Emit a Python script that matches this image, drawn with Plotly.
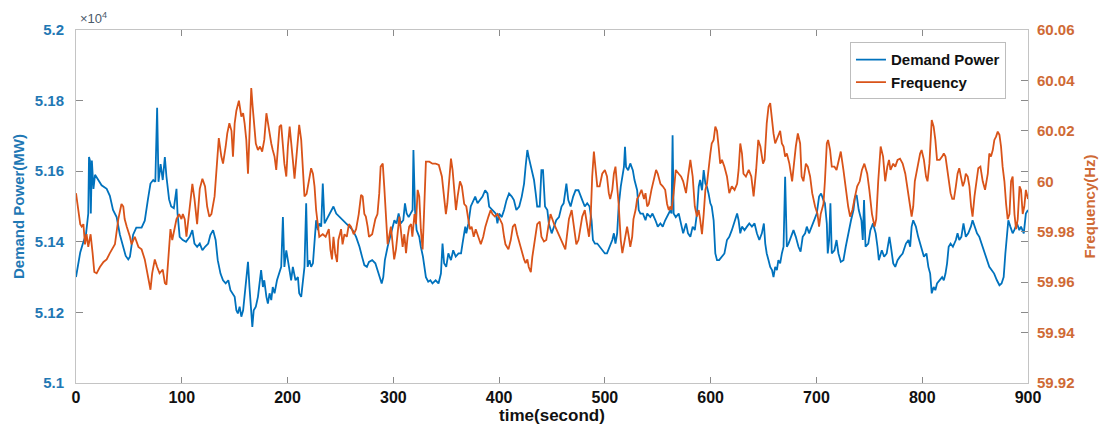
import plotly.graph_objects as go

# ---- Demand power (units of 10^4 MW) ----
t_demand = [0, 1, 4, 7, 9.4, 11.6, 12.3, 13.2, 14, 15, 16.5, 18, 21, 24.2, 29, 32, 35, 38.4, 41.5, 44.7,
            47, 49.4, 51, 54, 57, 62, 65, 68, 70.4, 73, 75, 76.7, 78, 80, 82, 84, 85.5, 88, 90, 92.5,
            95, 96, 98, 101, 104, 107.5, 110, 112, 114.5, 117, 119.5, 122, 125, 127, 129.6, 132, 134, 136.6, 139, 141.5,
            144, 146, 148, 150, 151.6, 153, 154.7, 156.3, 158, 159.4, 161, 162.6, 164, 165.7, 166.7, 168, 170, 172, 173.6, 175,
            176.7, 178, 180, 181.4, 183, 184.6, 186, 187.7, 190, 191.8, 194, 195.6, 197, 198.8, 200.3, 202, 203.4, 205, 207.5, 209.8,
            211, 212.9, 214.5, 216, 217.6, 219, 220.8, 222.3, 224, 225.5, 227, 228.6, 230, 231.8, 233.3, 235, 238, 241, 243.4, 246,
            249, 252, 255.3, 258.5, 261.6, 264.8, 268, 270.4, 272.6, 275, 277, 280, 283, 285, 287.4, 289, 290.5, 292, 294.6, 296.8,
            299, 301, 303, 305, 307, 309.4, 311, 312.6, 314.5, 316.7, 318.2, 319, 320.5, 322, 324.5, 326, 328, 330.8, 333, 335,
            337, 340, 342.7, 345, 346.5, 348, 350, 352, 354.5, 356.6, 359, 361.6, 364, 365.4, 368, 369, 371, 373.2, 375.5, 377.4,
            379.6, 382, 384.3, 386.8, 389, 390.6, 393.7, 396.9, 398.4, 400, 402.5, 404.7, 407, 409.4, 412, 414, 416.3, 419, 421.4, 423.6,
            425, 426.7, 428, 430, 431.4, 433, 434.6, 436, 438.4, 440, 441.5, 443.4, 445.6, 447, 449.7, 452, 454, 456.6, 459, 461,
            463.6, 465.4, 467.6, 470, 472.3, 475, 477, 478.6, 481, 483.3, 485.5, 487.4, 488.7, 490.6, 492.8, 495, 497.5, 500, 502, 504.4,
            507, 508.5, 510, 511.6, 513, 515, 516.5, 518, 519, 520, 522, 524, 526.4, 528, 530.5, 532, 533.6, 536, 538.4, 540,
            543, 545, 547.8, 550, 552.5, 554.7, 557, 559.8, 562, 563, 564, 565, 567, 569.8, 572, 574, 576.7, 578.6, 580.8, 583,
            585, 587, 588.7, 590, 591.8, 593.4, 595, 596.5, 598, 599.7, 601, 602.8, 604.4, 606, 608, 610.7, 613, 615.4, 617.6, 620,
            622.6, 625, 626.4, 628, 629.6, 632, 634.3, 636.5, 639, 641.5, 643.7, 646, 648.4, 650.3, 651.6, 653, 654.7, 656.3, 658, 659.4,
            661, 662.6, 664, 665.7, 667.3, 668.9, 670.4, 672, 673.6, 676, 678.3, 680.5, 683, 685, 687, 689.3, 690.9, 693, 695.6, 698,
            700.3, 702.5, 704.4, 706.6, 708, 709.8, 710.7, 712, 713.2, 714.5, 717, 719, 720.8, 723, 725.5, 727.7, 730, 732.7, 735, 736.5,
            738, 740, 742.5, 743.8, 745, 746.4, 749, 751, 753.5, 756, 757.7, 759, 761.8, 764, 766.4, 769, 770.4, 772.6, 774.5, 776.7,
            779, 781.5, 784.6, 787, 788.6, 790, 791.5, 794, 796.2, 799.4, 801.6, 804, 805.8, 807.5, 809, 810.8, 812.4, 814, 816.5, 818.8,
            820.4, 822, 823.5, 825, 826.8, 829, 831.8, 833.4, 835, 837, 839, 841.2, 843.5, 846, 847.6, 850, 851.8, 854, 856.2, 858.7,
            861.2, 863.4, 865.6, 868, 870.6, 873, 875, 877, 878.6, 880, 881.4, 883.3, 885.5, 887, 889.6, 891.8, 893.4, 896, 898, 900]
demand = [5.130, 5.1315, 5.137, 5.140, 5.142, 5.148, 5.164, 5.163, 5.148, 5.163, 5.155, 5.159, 5.1575, 5.156, 5.155, 5.153, 5.149, 5.147, 5.142, 5.1386,
          5.136, 5.135, 5.1358, 5.142, 5.144, 5.144, 5.146, 5.152, 5.1565, 5.1575, 5.157, 5.178, 5.157, 5.162, 5.1575, 5.164, 5.1585, 5.152, 5.150, 5.1495,
          5.155, 5.148, 5.1414, 5.1405, 5.140, 5.1414, 5.1433, 5.1395, 5.1386, 5.1395, 5.1376, 5.1386, 5.1395, 5.1419, 5.1433, 5.1405, 5.1348, 5.131, 5.1291, 5.1282,
          5.1291, 5.1263, 5.1254, 5.1244, 5.1206, 5.1197, 5.1216, 5.1188, 5.1206, 5.1244, 5.1291, 5.1343, 5.1272, 5.1206, 5.1159, 5.1206, 5.1216, 5.1244, 5.1291, 5.132,
          5.1272, 5.1291, 5.1244, 5.1225, 5.1254, 5.1235, 5.1272, 5.1254, 5.1291, 5.131, 5.1329, 5.147, 5.1329, 5.1376, 5.1348, 5.131, 5.1291, 5.1329, 5.1291, 5.130,
          5.1254, 5.1244, 5.1291, 5.1329, 5.1509, 5.1329, 5.1348, 5.1329, 5.1339, 5.1405, 5.1461, 5.1433, 5.1452, 5.1443, 5.1565, 5.1452, 5.147, 5.149, 5.150, 5.148,
          5.147, 5.1461, 5.1452, 5.1443, 5.1433, 5.1414, 5.1386, 5.1358, 5.1334, 5.1329, 5.1343, 5.1348, 5.1339, 5.132, 5.130, 5.1282, 5.130, 5.1348, 5.1386, 5.1414,
          5.1443, 5.1461, 5.1452, 5.148, 5.1452, 5.1461, 5.1509, 5.148, 5.147, 5.148, 5.149, 5.166, 5.149, 5.1433, 5.1414, 5.1386, 5.1358, 5.130, 5.1287, 5.1291,
          5.1282, 5.1291, 5.1282, 5.131, 5.1395, 5.1339, 5.1329, 5.1367, 5.1348, 5.1376, 5.1358, 5.1367, 5.1367, 5.1395, 5.1443, 5.1424, 5.1452, 5.150, 5.1518, 5.1528,
          5.1509, 5.1518, 5.1528, 5.1546, 5.1537, 5.150, 5.149, 5.148, 5.1452, 5.148, 5.147, 5.149, 5.1518, 5.1537, 5.1528, 5.1518, 5.149, 5.150, 5.1528, 5.1565,
          5.1612, 5.166, 5.164, 5.1612, 5.1594, 5.1575, 5.1537, 5.150, 5.150, 5.1603, 5.1603, 5.150, 5.149, 5.1452, 5.1424, 5.1443, 5.1461, 5.147, 5.150, 5.1509,
          5.1565, 5.1518, 5.150, 5.1528, 5.1546, 5.1546, 5.1528, 5.1518, 5.150, 5.1509, 5.150, 5.1461, 5.1405, 5.1395, 5.1395, 5.1386, 5.1376, 5.1367, 5.1367, 5.1386,
          5.1405, 5.1424, 5.1395, 5.1424, 5.150, 5.1556, 5.1584, 5.1612, 5.1669, 5.1612, 5.1603, 5.1622, 5.1603, 5.1575, 5.1546, 5.149, 5.148, 5.148, 5.1461, 5.148,
          5.147, 5.148, 5.1461, 5.1443, 5.1452, 5.1443, 5.1461, 5.148, 5.149, 5.148, 5.1702, 5.148, 5.147, 5.148, 5.1452, 5.1424, 5.1452, 5.1424, 5.1414, 5.1443,
          5.1433, 5.148, 5.1556, 5.1575, 5.1546, 5.1603, 5.1565, 5.1556, 5.1537, 5.1509, 5.150, 5.1461, 5.1367, 5.1348, 5.1348, 5.1358, 5.1367, 5.1405, 5.1414, 5.1433,
          5.1461, 5.148, 5.1461, 5.1424, 5.1443, 5.1433, 5.1443, 5.1452, 5.1443, 5.1452, 5.1424, 5.1405, 5.1424, 5.1452, 5.1395, 5.1367, 5.1348, 5.1329, 5.132, 5.130,
          5.1329, 5.132, 5.1348, 5.1339, 5.1367, 5.1386, 5.1584, 5.1386, 5.1395, 5.1414, 5.1433, 5.1414, 5.1386, 5.1372, 5.1414, 5.1424, 5.1443, 5.1424, 5.1443, 5.1461,
          5.148, 5.1528, 5.1537, 5.1518, 5.1509, 5.1452, 5.1367, 5.1405, 5.1509, 5.1367, 5.1376, 5.1405, 5.1367, 5.1343, 5.1348, 5.1386, 5.1424, 5.1461, 5.149, 5.1528,
          5.1532, 5.149, 5.1461, 5.1405, 5.1518, 5.1386, 5.1395, 5.1433, 5.1452, 5.1424, 5.1386, 5.1348, 5.1376, 5.1358, 5.1367, 5.1414, 5.1386, 5.1339, 5.1329, 5.1348,
          5.1358, 5.1367, 5.1395, 5.1405, 5.1386, 5.1443, 5.1461, 5.1443, 5.1414, 5.1376, 5.1358, 5.1367, 5.1329, 5.131, 5.1254, 5.1272, 5.1263, 5.1282, 5.1291, 5.130,
          5.1291, 5.131, 5.1339, 5.1386, 5.1395, 5.1386, 5.1405, 5.1424, 5.1405, 5.1414, 5.1452, 5.1414, 5.1424, 5.1443, 5.1461, 5.1443, 5.1424, 5.1414, 5.1395, 5.1376,
          5.1348, 5.1329, 5.132, 5.131, 5.1291, 5.1277, 5.1282, 5.130, 5.1367, 5.1414, 5.1461, 5.1443, 5.1424, 5.1433, 5.1452, 5.1433, 5.1443, 5.1424, 5.148, 5.149]

# ---- Frequency (Hz) ----
t_freq = [0, 1.3, 4, 5.4, 7, 8.5, 10, 11.6, 13.8, 15.7, 17.3, 19.5, 22.6, 26, 29, 32, 35, 36.8, 40, 41.5,
          43, 44.7, 46, 48, 51, 52.5, 55.6, 59, 62, 65, 66.7, 68, 70.4, 72, 74.5, 76.7, 79, 82, 84, 85.5,
          87.4, 89.3, 91, 93.4, 95, 97.5, 99.7, 101, 102.8, 104.4, 107.5, 110, 112, 114.5, 117, 119.5, 122, 124, 126, 128,
          131, 133.3, 135, 137.4, 139, 141.5, 143, 145, 147, 148.4, 150, 151.6, 154, 156.3, 158, 159.4, 161, 162.6, 164, 165.7,
          167, 168.8, 170, 172, 174, 176, 178, 180, 181.4, 183, 184.6, 186, 187.7, 189.3, 191, 192.4, 194, 195.6, 197, 198.8,
          200.3, 202, 203.4, 205, 206.6, 208, 209.8, 211, 212.9, 214.5, 216, 218, 220.8, 222.3, 224, 225.5, 227, 228.6, 230, 233.3,
          236, 239, 240.5, 242, 243.4, 245, 246.8, 248, 250.6, 252, 253.8, 256, 258, 260, 262.5, 264.8, 267.3, 269.5, 271, 272.6,
          274, 275.7, 277, 280, 281.8, 283, 285, 286.7, 288, 290, 291.4, 293, 294.6, 296, 297.7, 299, 300.8, 302.5, 304, 305.7,
          307, 308.8, 310.4, 312, 313.5, 315, 316.8, 318, 320, 321.4, 323, 324.5, 326, 327.7, 329, 330.8, 334, 337, 340, 343,
          345.9, 348, 349.7, 351, 352.8, 354.5, 356, 357.5, 359.2, 360.8, 363, 364.8, 367, 369, 371, 372.3, 374, 376, 377.9, 380,
          382.7, 385, 387, 389.9, 392, 393.7, 396, 398.4, 400.6, 403, 404.7, 406, 408.8, 411, 413, 415, 417, 419.5, 421.4, 423.6,
          425, 426.7, 428, 430, 431.4, 434, 436, 438.4, 440, 442.4, 444.6, 446.5, 448.6, 452, 454, 456.6, 459, 461, 462.6, 464,
          466, 468.6, 471, 473, 475, 477, 478.6, 481, 483.3, 485, 486.5, 488, 489.6, 491, 492.8, 495, 497.5, 500, 502, 503.7,
          505, 507, 508.5, 510, 511.6, 513, 515, 516.5, 518, 519.5, 521, 522.6, 524, 525.8, 527, 529, 530.5, 532, 534.6, 537,
          538.4, 540, 541.5, 544, 546, 548.4, 550, 552.5, 554.7, 557, 558.8, 560.4, 562, 563, 565, 567, 569.8, 572, 574, 576.7,
          578.6, 580.8, 583, 585, 587, 588.7, 590, 591.8, 593.4, 595, 596.5, 598, 599.7, 601, 602.8, 604.4, 606, 607.5, 609, 610.7,
          613, 615.4, 617.6, 620, 622.6, 625, 626.4, 628, 629.6, 631, 633.3, 636, 638.4, 640.6, 643, 645, 647, 649.5, 651, 653,
          654.7, 656.3, 658, 659.4, 661, 663.6, 665.7, 667.3, 668.9, 670.4, 672, 674.4, 677, 680.5, 682.4, 684.6, 686, 687.7, 690, 691.8,
          694, 696, 698.7, 701, 702.5, 704, 706.6, 708, 709.8, 711, 712.9, 714.5, 717, 719, 720.8, 723, 725.5, 727.7, 730, 731.8,
          734, 736, 738.5, 740.9, 743, 745.3, 748, 750, 752.5, 755, 756.5, 758.4, 760.7, 763, 765, 767, 768.6, 770, 772.6, 774.5,
          776.7, 779, 781.5, 784, 786, 788.6, 790, 791.5, 793, 795.3, 798, 799.4, 801.6, 803.6, 805, 806.8, 809, 810.8, 812.4, 814,
          816.5, 818.8, 820.4, 822, 823.5, 825, 826.8, 828.4, 830, 831.8, 833.4, 835, 836.7, 838.4, 840, 841.2, 843, 844.6, 846.2, 847.6,
          849.4, 851, 853, 855, 857.2, 859.4, 862, 863.4, 865, 866.7, 868.2, 869.8, 871.4, 873, 874.5, 876, 877.7, 879.3, 880.8, 882.5,
          884, 885.5, 887.2, 888.7, 890.3, 892, 893.4, 895, 896.5, 898, 900]
freq = [59.9953, 59.991, 59.983, 59.982, 59.983, 59.975, 59.979, 59.974, 59.979, 59.9715, 59.964, 59.9635, 59.966, 59.968, 59.969, 59.9715, 59.974, 59.975, 59.985, 59.988,
        59.991, 59.990, 59.985, 59.982, 59.978, 59.975, 59.978, 59.974, 59.973, 59.969, 59.965, 59.962, 59.957, 59.9635, 59.969, 59.966, 59.9635, 59.965, 59.9596, 59.959,
        59.970, 59.981, 59.9767, 59.981, 59.985, 59.987, 59.985, 59.987, 59.985, 59.978, 59.990, 59.999, 59.993, 59.983, 59.997, 60.001, 59.998, 59.990, 59.986, 59.987,
        59.994, 60.007, 60.0171, 60.0098, 60.007, 60.0138, 60.019, 60.023, 60.020, 60.0098, 60.023, 60.028, 60.032, 60.0257, 60.027, 60.023, 60.0164, 60.003, 60.020, 60.037,
        60.0296, 60.0217, 60.015, 60.0124, 60.0138, 60.0118, 60.0164, 60.027, 60.023, 60.0177, 60.015, 60.0124, 60.0098, 60.0045, 60.0138, 60.0217, 60.0224, 60.0138, 60.007, 60.0019,
        60.0138, 60.0217, 60.0164, 60.0085, 60.001, 60.007, 60.0171, 60.0224, 60.0164, 60.0045, 59.994, 59.995, 60.0019, 60.0052, 60.003, 59.998, 59.9886, 59.982, 59.978, 59.979,
        59.978, 59.981, 59.973, 59.969, 59.978, 59.9715, 59.968, 59.9767, 59.981, 59.975, 59.979, 59.978, 59.983, 59.982, 59.979, 59.981, 59.987, 59.9946, 59.994, 59.987,
        59.986, 59.982, 59.978, 59.979, 59.983, 59.985, 59.987, 59.9953, 60.0058, 60.007, 59.998, 59.987, 59.975, 59.978, 59.982, 59.9767, 59.969, 59.973, 59.978, 59.986,
        59.981, 59.974, 59.979, 59.9715, 59.978, 59.982, 59.983, 59.978, 59.987, 59.983, 59.9966, 59.994, 59.981, 59.973, 59.987, 60.0078, 60.0078, 60.007, 60.007, 60.0065,
        60.0019, 59.994, 59.987, 59.991, 60.0019, 60.009, 60.0045, 59.9966, 59.9886, 59.994, 60.000, 59.998, 59.991, 59.990, 59.985, 59.981, 59.982, 59.978, 59.981, 59.978,
        59.975, 59.978, 59.982, 59.986, 59.9886, 59.987, 59.986, 59.987, 59.985, 59.983, 59.978, 59.975, 59.973, 59.9767, 59.982, 59.983, 59.979, 59.975, 59.9715, 59.969,
        59.9675, 59.969, 59.966, 59.964, 59.970, 59.9767, 59.983, 59.984, 59.978, 59.9761, 59.9767, 59.982, 59.987, 59.983, 59.981, 59.979, 59.9767, 59.974, 59.973, 59.978,
        59.985, 59.9886, 59.982, 59.975, 59.9767, 59.982, 59.986, 59.9886, 59.982, 59.978, 59.985, 60.0019, 60.0118, 60.0045, 59.998, 59.998, 60.003, 60.0045, 60.0019, 59.9953,
        59.993, 59.9966, 60.003, 60.0058, 59.999, 59.991, 59.9767, 59.9715, 59.975, 59.979, 59.982, 59.978, 59.974, 59.978, 59.985, 59.9886, 59.993, 59.994, 59.9966, 59.993,
        59.9953, 59.990, 59.991, 59.9966, 60.000, 60.0045, 60.003, 59.999, 59.998, 59.9966, 59.991, 59.9886, 59.990, 59.9886, 59.9953, 60.0045, 60.003, 60.0019, 60.000, 59.9953,
        60.0019, 60.0085, 60.0019, 59.990, 59.986, 59.9886, 59.985, 59.979, 59.987, 59.9966, 59.999, 60.0058, 60.011, 60.015, 60.0164, 60.0217, 60.020, 60.0138, 60.007, 60.0085,
        60.0058, 60.0019, 59.9953, 59.998, 59.9966, 59.999, 60.0045, 60.015, 60.011, 60.003, 60.0019, 60.0045, 60.0019, 59.994, 60.0045, 60.0164, 60.0138, 60.007, 60.0085, 60.023,
        60.0296, 60.031, 60.023, 60.019, 60.015, 60.0177, 60.020, 60.015, 60.0138, 60.0098, 60.011, 60.007, 60.000, 60.0138, 60.019, 60.015, 60.0019, 60.000, 60.007, 60.0058,
        60.0019, 59.9953, 59.990, 59.987, 59.982, 59.987, 59.991, 60.000, 60.015, 60.0164, 60.0124, 60.0058, 60.0058, 60.0045, 60.0085, 60.0118, 60.0045, 59.9966, 59.990, 59.986,
        59.9886, 59.993, 59.998, 60.000, 60.0045, 60.007, 60.003, 59.9966, 59.987, 59.982, 59.985, 60.000, 60.0138, 60.0098, 60.000, 60.0058, 60.0085, 60.0045, 60.007, 60.0058,
        60.0085, 60.009, 60.007, 60.003, 59.998, 59.990, 59.986, 59.990, 60.000, 60.0058, 60.011, 60.0124, 60.0085, 60.0019, 60.000, 60.007, 60.0243, 60.0217, 60.0164, 60.0085,
        60.0085, 60.0098, 60.011, 60.0098, 60.0058, 60.000, 59.9953, 59.993, 59.993, 59.998, 60.003, 60.0052, 60.0019, 59.998, 60.000, 60.003, 60.0019, 59.998, 59.990, 59.986,
        59.994, 60.000, 60.0052, 60.0058, 60.000, 59.9966, 60.003, 60.011, 60.0098, 60.0124, 60.0164, 60.0177, 60.0197, 60.0184, 60.0138, 60.0058, 60.000, 59.991, 59.985, 59.987,
        60.000, 60.0019, 59.987, 59.981, 59.985, 59.998, 59.9966, 59.987, 59.990, 59.9966, 59.993]

x_ticks = [0, 100, 200, 300, 400, 500, 600, 700, 800, 900]
left_ticks = [5.1, 5.12, 5.14, 5.16, 5.18, 5.2]
right_ticks = [59.92, 59.94, 59.96, 59.98, 60.0, 60.02, 60.04, 60.06]

BLUE = "#0072BD"
ORANGE = "#D95319"
LBLUE = "#1f78b4"
LORANGE = "#cf6a35"
AXC = "#c4c4c4"
TICKC = "#8a8a8a"
FONT = "Liberation Sans, Arial, sans-serif"
NARROW = "Liberation Sans Narrow, Arial Narrow, Liberation Sans, Arial"

fig = go.Figure()
fig.add_trace(go.Scatter(x=t_demand, y=demand, mode="lines", name="Demand Power",
                         line=dict(color=BLUE, width=1.8), yaxis="y"))
fig.add_trace(go.Scatter(x=t_freq, y=freq, mode="lines", name="Frequency",
                         line=dict(color=ORANGE, width=1.8), yaxis="y2"))

fig.update_layout(
    width=1112, height=433,
    margin=dict(l=76, r=84, t=30, b=50),
    paper_bgcolor="white", plot_bgcolor="white",
    font=dict(family=FONT, size=14, color="#222"),
    showlegend=True,
    legend=dict(x=0.813, y=0.965, xanchor="left", yanchor="top",
                bgcolor="white", bordercolor="#bdbdbd", borderwidth=1,
                font=dict(family=FONT, size=15, color="#111", weight="bold"),
                tracegroupgap=0, itemwidth=30),
    xaxis=dict(range=[0, 900], tickvals=x_ticks, ticks="inside", ticklen=6,
               tickcolor=TICKC, showline=True, linecolor=AXC, linewidth=1, mirror="ticks",
               showgrid=False, zeroline=False,
               tickfont=dict(family=NARROW, size=16, color="#111", weight="bold"),
               title=dict(text="time(second)", standoff=3,
                          font=dict(family=NARROW, size=17, color="#111", weight="bold"))),
    yaxis=dict(range=[5.1, 5.2], tickvals=left_ticks, ticktext=["5.1", "5.12", "5.14", "5.16", "5.18", "5.2"],
               ticks="inside", ticklen=7, tickcolor=TICKC, ticklabelstandoff=8,
               showline=True, linecolor=AXC, linewidth=1, mirror="ticks",
               showgrid=False, zeroline=False,
               tickfont=dict(family=FONT, size=15, color=LBLUE, weight="bold"),
               title=dict(text="Demand Power(MW)", standoff=6,
                          font=dict(family=FONT, size=15, color=LBLUE, weight="bold"))),
    yaxis2=dict(range=[59.92, 60.06], tickvals=right_ticks,
                ticktext=["59.92", "59.94", "59.96", "59.98", "60", "60.02", "60.04", "60.06"],
                overlaying="y", side="right", ticks="inside", ticklen=7, tickcolor=TICKC,
                ticklabelstandoff=8,
                showline=False, showgrid=False, zeroline=False,
                tickfont=dict(family=FONT, size=15, color=LORANGE, weight="bold"),
                title=dict(text="Frequency(Hz)", standoff=10,
                           font=dict(family=FONT, size=15, color=LORANGE, weight="bold"))),
    annotations=[dict(text="×10<sup>4</sup>", x=0.0, y=1.0, xref="paper", yref="paper",
                      xanchor="left", yanchor="bottom", showarrow=False, xshift=2, yshift=2,
                      font=dict(family=FONT, size=13, color="#4a5a6a"))],
)

fig.write_html("out.html")
